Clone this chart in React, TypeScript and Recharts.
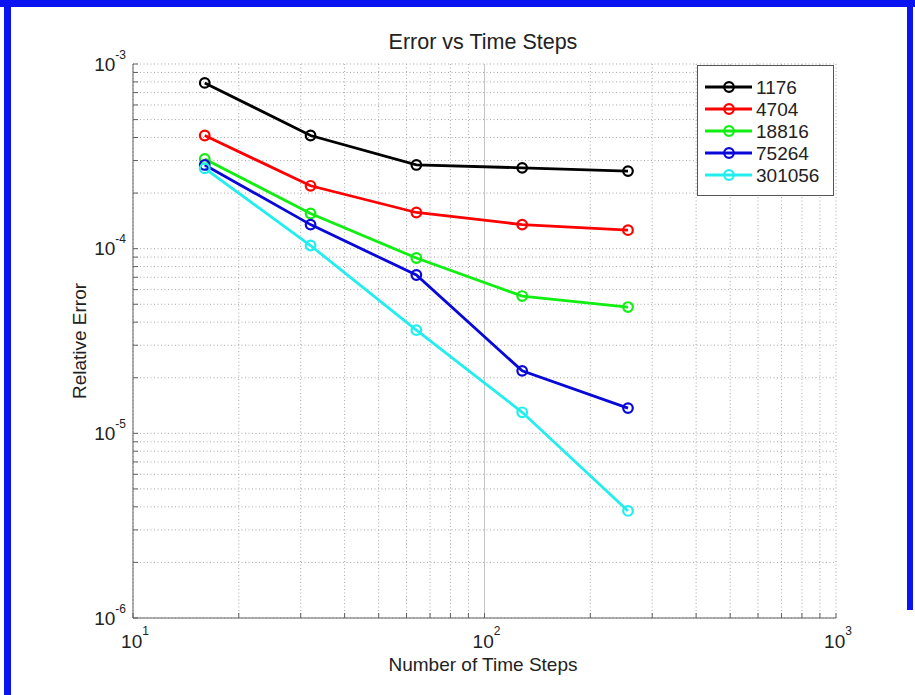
import {
  CartesianGrid,
  Legend,
  Line,
  LineChart,
  ReferenceLine,
  XAxis,
  YAxis,
} from "recharts";

// time step counts along the x axis
const timeSteps = [16, 32, 64, 128, 256];

// relative error per mesh size
const err1176 = [7.9e-4, 4.1e-4, 2.84e-4, 2.74e-4, 2.63e-4];
const err4704 = [4.1e-4, 2.19e-4, 1.57e-4, 1.35e-4, 1.26e-4];
const err18816 = [3.06e-4, 1.55e-4, 8.9e-5, 5.54e-5, 4.83e-5];
const err75264 = [2.84e-4, 1.35e-4, 7.2e-5, 2.18e-5, 1.37e-5];
const err301056 = [2.72e-4, 1.04e-4, 3.62e-5, 1.3e-5, 3.8e-6];

const xTicks = [
  10, 20, 30, 40, 50, 60, 70, 80, 90, 100, 200, 300, 400, 500, 600, 700, 800,
  900, 1000,
];
const yTicks = [
  1e-6, 2e-6, 3e-6, 4e-6, 5e-6, 6e-6, 7e-6, 8e-6, 9e-6, 1e-5, 2e-5, 3e-5,
  4e-5, 5e-5, 6e-5, 7e-5, 8e-5, 9e-5, 1e-4, 2e-4, 3e-4, 4e-4, 5e-4, 6e-4,
  7e-4, 8e-4, 9e-4, 1e-3,
];

const series = [
  { key: "e1176", name: "1176", values: err1176, color: "#000000" },
  { key: "e4704", name: "4704", values: err4704, color: "#ff0000" },
  { key: "e18816", name: "18816", values: err18816, color: "#11ee11" },
  { key: "e75264", name: "75264", values: err75264, color: "#0808d8" },
  { key: "e301056", name: "301056", values: err301056, color: "#22eeee" },
];

const data = timeSteps.map((steps, i) => {
  const row: Record<string, number> = { steps };
  series.forEach((s) => {
    row[s.key] = s.values[i];
  });
  return row;
});

const FONT = '"Liberation Sans", Arial, Helvetica, sans-serif';
const AXIS = "#606060";

const isDecade = (v: number) => {
  const e = Math.log10(v);
  return Math.abs(e - Math.round(e)) < 1e-6;
};

function XTick(props: any) {
  const { x, y, payload } = props;
  if (!isDecade(payload.value)) return null;
  const exp = Math.round(Math.log10(payload.value));
  return (
    <text x={x + 2} y={y} textAnchor="middle" fontFamily={FONT} fontSize={19} fill="#222">
      <tspan>10</tspan>
      <tspan dy={-13} fontSize={12}>
        {exp}
      </tspan>
    </text>
  );
}

function YTick(props: any) {
  const { x, y, payload } = props;
  if (!isDecade(payload.value)) return null;
  const exp = Math.round(Math.log10(payload.value));
  return (
    <text x={x} y={y + 6.5} textAnchor="end" fontFamily={FONT} fontSize={19} fill="#222">
      <tspan>10</tspan>
      <tspan dy={-12} fontSize={12}>
        {exp}
      </tspan>
    </text>
  );
}

// legend keeps the plotting order of the series
function LegendBox(props: any) {
  const items = [...(props.payload || [])].sort(
    (a: any, b: any) =>
      series.findIndex((s) => s.name === a.value) -
      series.findIndex((s) => s.name === b.value)
  );
  return (
    <svg width={137} height={131} style={{ display: "block" }}>
      <rect x={0.5} y={0.5} width={136} height={130} fill="#fff" stroke="#555" />
      {items.map((item: any, i: number) => {
        const cy = 22 + i * 22;
        return (
          <g key={item.value}>
            <line x1={8} x2={55} y1={cy} y2={cy} stroke={item.color} strokeWidth={2.8} />
            <circle cx={32} cy={cy} r={4.8} fill="none" stroke={item.color} strokeWidth={2.2} />
            <text x={59} y={cy + 7} fontFamily={FONT} fontSize={19} fill="#222">
              {item.value}
            </text>
          </g>
        );
      })}
    </svg>
  );
}

export default function App() {
  return (
    <div
      style={{
        position: "absolute",
        left: 0,
        top: 0,
        width: 915,
        height: 695,
        background: "#fff",
        overflow: "hidden",
      }}
    >
      <LineChart
        width={915}
        height={695}
        data={data}
        margin={{ top: 64, right: 79, bottom: 0, left: 0 }}
      >
        <CartesianGrid stroke="#a8a8a8" strokeDasharray="1 2.5" />
        <XAxis
          dataKey="steps"
          type="number"
          scale="log"
          domain={[10, 1000]}
          ticks={xTicks}
          allowDataOverflow
          height={77}
          interval={0}
          tick={<XTick />}
          tickSize={-5}
          tickMargin={35}
          tickLine={{ stroke: AXIS }}
          axisLine={{ stroke: AXIS }}
        />
        <XAxis
          xAxisId="top"
          orientation="top"
          type="number"
          scale="log"
          domain={[10, 1000]}
          ticks={xTicks}
          allowDataOverflow
          height={0}
          interval={0}
          tick={false}
          tickSize={-5}
          tickLine={{ stroke: AXIS }}
          axisLine={{ stroke: AXIS }}
        />
        <YAxis
          type="number"
          scale="log"
          domain={[1e-6, 1e-3]}
          ticks={yTicks}
          allowDataOverflow
          width={133}
          interval={0}
          tick={<YTick />}
          tickSize={-5}
          tickMargin={12}
          tickLine={{ stroke: AXIS }}
          axisLine={{ stroke: AXIS }}
        />
        <YAxis
          yAxisId="right"
          orientation="right"
          type="number"
          scale="log"
          domain={[1e-6, 1e-3]}
          ticks={yTicks}
          allowDataOverflow
          width={0}
          interval={0}
          tick={false}
          tickSize={-5}
          tickLine={{ stroke: AXIS }}
          axisLine={{ stroke: AXIS }}
        />
        <ReferenceLine x={100} stroke="#c4c4c4" />
        {series.map((s) => (
          <Line
            key={s.key}
            type="linear"
            dataKey={s.key}
            name={s.name}
            stroke={s.color}
            strokeWidth={2.8}
            dot={{ r: 4.8, strokeWidth: 2.2, fill: "none", stroke: s.color }}
            activeDot={false}
            isAnimationActive={false}
          />
        ))}
        <Legend
          layout="horizontal"
          align="center"
          verticalAlign="middle"
          content={<LegendBox />}
          wrapperStyle={{ left: 697, top: 65, width: 137, height: 131 }}
        />
      </LineChart>

      <svg
        width={915}
        height={695}
        style={{ position: "absolute", left: 0, top: 0, pointerEvents: "none" }}
      >
        <text x={483} y={49} textAnchor="middle" fontFamily={FONT} fontSize={21.5} fill="#222">
          Error vs Time Steps
        </text>
        <text x={483} y={671} textAnchor="middle" fontFamily={FONT} fontSize={19} fill="#222">
          Number of Time Steps
        </text>
        <text
          transform="translate(86,341) rotate(-90)"
          textAnchor="middle"
          fontFamily={FONT}
          fontSize={19}
          fill="#222"
        >
          Relative Error
        </text>
      </svg>

      {/* blue frame */}
      <div style={{ position: "absolute", left: 0, top: 0, width: 915, height: 7, background: "#0a14f0" }} />
      <div style={{ position: "absolute", left: 4, top: 0, width: 7, height: 695, background: "#0a14f0" }} />
      <div style={{ position: "absolute", left: 907, top: 0, width: 6, height: 610, background: "#0a14f0" }} />
    </div>
  );
}
